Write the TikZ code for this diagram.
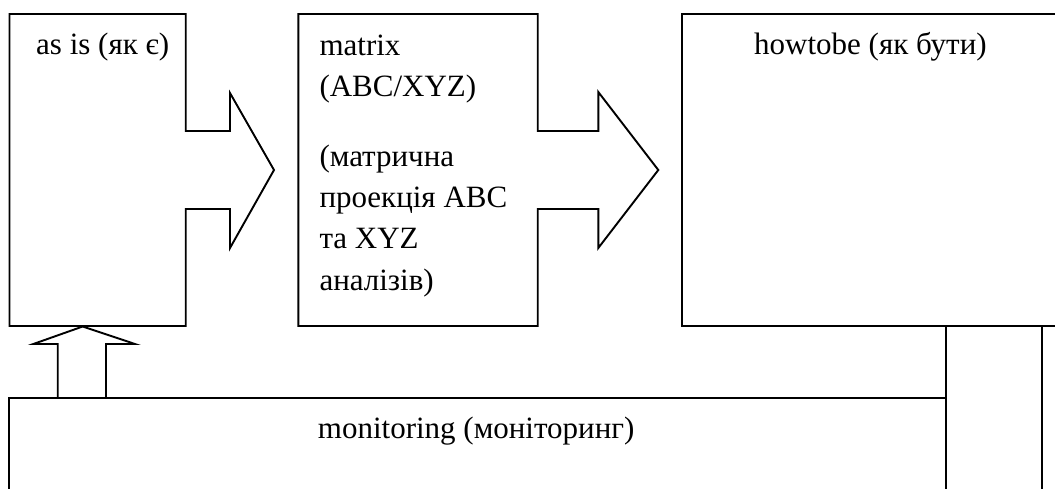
\documentclass[tikz,border=0pt]{standalone}
\usepackage{fontspec}
\setmainfont{Liberation Serif}
\begin{document}
\begin{tikzpicture}[x=1pt,y=-1pt,
  outline/.style={draw=black,line width=1.9pt,line join=miter},
  lbl/.style={anchor=base west,inner sep=0pt,font=\fontsize{31}{41.3}\selectfont}]
\useasboundingbox (0,0) rectangle (1055,488);
\clip (0,0) rectangle (1055,488);

% "as is" block with its outgoing block arrow
\draw[outline] (9.5,14) -- (185.7,14) -- (185.7,131) -- (230,131) -- (230,93)
  -- (274,170) -- (230,248) -- (230,209) -- (185.7,209) -- (185.7,326)
  -- (9.5,326) -- cycle;
\node[lbl] (asis) at (36,54) {as is (як є)};

% matrix block with its outgoing block arrow
\draw[outline] (298.3,14) -- (537.7,14) -- (537.7,131) -- (598.3,131) -- (598.3,92)
  -- (658.3,170) -- (598.3,248) -- (598.3,209) -- (537.7,209) -- (537.7,326)
  -- (298.3,326) -- cycle;
\node[lbl] (matrix) at (319.3,55) {\parbox[t]{220pt}{\raggedright
  matrix\\
  (ABC/XYZ)\\[28.7pt]
  (матрична\\
  проекція ABC\\
  та XYZ\\
  аналізів)}};

% "how to be" block
\draw[outline] (681.7,14) rectangle (1070,326);
\node[lbl] (tobe) at (754,54) {howtobe (як бути)};

% feedback channel from "how to be" down to monitoring
\draw[outline] (945.7,326) -- (945.7,500);
\draw[outline] (1042.3,326) -- (1042.3,500);

% monitoring block
\draw[outline] (945.7,500) -- (945.7,398) -- (9.3,398) -- (9.3,500);
\node[lbl] (mon) at (317.7,438) {monitoring (моніторинг)};

% block arrow from monitoring up to "as is"
\draw[outline] (57.7,398) -- (57.7,344) -- (33.3,344) -- (82.7,326.5)
  -- (135,344) -- (106,344) -- (106,398);
\end{tikzpicture}
\end{document}
